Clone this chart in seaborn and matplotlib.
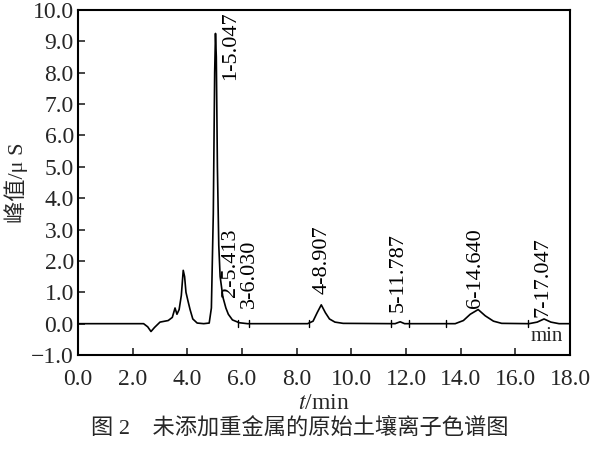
import matplotlib
matplotlib.use("Agg")
import matplotlib.pyplot as plt
import seaborn as sns
import pandas as pd

# chromatogram trace (time in min, signal in uS)
time_min = [0.0, 2.4, 2.55, 2.67, 2.8, 3.0, 3.3, 3.45, 3.55, 3.62, 3.7, 3.78, 3.85, 3.9,
            3.95, 4.03, 4.1, 4.2, 4.36, 4.6, 4.8, 4.88, 4.95, 5.0, 5.03, 5.06, 5.1, 5.15,
            5.2, 5.3, 5.41, 5.5, 5.65, 5.9, 6.2, 8.4, 8.6, 8.75, 8.9, 9.05, 9.2, 9.4, 9.7,
            11.6, 11.787, 11.95, 13.8, 14.1, 14.35, 14.64, 14.9, 15.2, 15.5, 16.5, 16.8,
            17.05, 17.3, 17.6, 18.0]
signal_us = [0.0, 0.0, -0.1, -0.25, -0.12, 0.05, 0.1, 0.2, 0.5, 0.3, 0.45, 0.9, 1.7, 1.5,
             1.0, 0.7, 0.45, 0.15, 0.02, 0.0, 0.02, 0.5, 3.5, 8.0, 9.25, 8.5, 5.0, 2.5,
             1.5, 0.85, 0.5, 0.3, 0.12, 0.03, 0.0, 0.0, 0.08, 0.35, 0.6, 0.35, 0.15, 0.05, 0.01,
             0.0, 0.06, 0.0, 0.0, 0.1, 0.3, 0.45, 0.25, 0.08, 0.01, 0.0, 0.05,
             0.15, 0.05, 0.0, 0.0]

# peak labels
peak_labels = ["1-5.047", "2-5.413", "3-6.030", "4-8.907", "5-11.787", "6-14.640", "7-17.047"]
label_x = [5.6, 5.57, 6.26, 8.94, 11.72, 14.54, 17.03]
label_y = [7.75, 0.86, 0.5, 0.93, 0.38, 0.5, 0.22]

# small integration markers on the baseline
marker_t = [5.85, 6.25, 8.45, 11.45, 12.1, 13.45, 16.45]

x_ticks = [0, 2, 4, 6, 8, 10, 12, 14, 16, 18]
x_ticklabels = ["0.0", "2.0", "4.0", "6.0", "8.0", "10.0", "12.0", "14.0", "16.0", "18.0"]
y_ticks = [-1, 0, 1, 2, 3, 4, 5, 6, 7, 8, 9, 10]
y_ticklabels = ["\u22121.0", "0.0", "1.0", "2.0", "3.0", "4.0", "5.0", "6.0", "7.0", "8.0", "9.0", "10.0"]

sns.set_style("ticks")
plt.rcParams["font.family"] = ["Liberation Serif", "Noto Sans CJK SC", "DejaVu Sans"]
plt.rcParams["mathtext.fontset"] = "stix"

fig = plt.figure(figsize=(6, 4.5), dpi=100)
ax = fig.add_axes([0.13, 0.211, 0.82, 0.767])

df = pd.DataFrame({"t": time_min, "s": signal_us})
sns.lineplot(data=df, x="t", y="s", ax=ax, color="black", linewidth=1.2, estimator=None, sort=False)

for mt in marker_t:
    ax.plot([mt, mt], [-0.1, 0.12], color="black", linewidth=1.0)

for lab, lx, ly in zip(peak_labels, label_x, label_y):
    ax.text(lx, ly, lab, rotation=90, ha="center", va="bottom", fontsize=16, color="black")

ax.text(0.985, 0.025, "min", transform=ax.transAxes, ha="right", va="bottom", fontsize=15)

ax.set_xlim(0, 18)
ax.set_ylim(-1, 10)
ax.set_xticks(x_ticks)
ax.set_xticklabels(x_ticklabels, fontsize=17)
ax.set_yticks(y_ticks)
ax.set_yticklabels(y_ticklabels, fontsize=17)
ax.tick_params(axis="x", direction="in", length=5, width=1.2, top=False, pad=10)
ax.tick_params(axis="y", direction="in", length=5, width=1.2, right=False, pad=3)
for sp in ax.spines.values():
    sp.set_visible(True)
    sp.set_linewidth(1.5)
    sp.set_color("black")

ax.set_xlabel("$t$/min", fontsize=17, labelpad=2)
ax.set_ylabel("峰值/μ S", fontsize=16, labelpad=2)

fig.text(0.5, 0.048, "图 2    未添加重金属的原始土壤离子色谱图", ha="center", va="center", fontsize=16)

fig.savefig("out.png", dpi=100)
